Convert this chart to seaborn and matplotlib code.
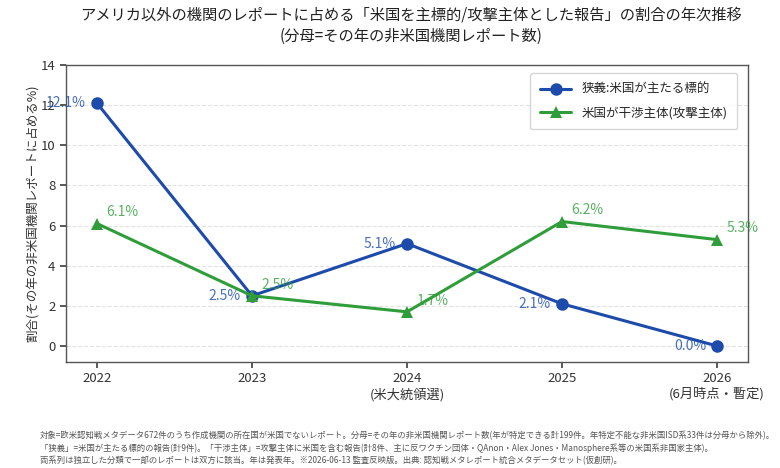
import matplotlib
matplotlib.use("Agg")
import matplotlib.pyplot as plt
import seaborn as sns
import pandas as pd

years = ["2022", "2023", "2024", "2025", "2026"]
xtick_labels = ["2022", "2023", "2024\n(米大統領選)", "2025", "2026\n(6月時点・暫定)"]
narrow = [12.1, 2.5, 5.1, 2.1, 0.0]
interfere = [6.1, 2.5, 1.7, 6.2, 5.3]
series_names = ["狭義:米国が主たる標的", "米国が干渉主体(攻撃主体)"]
title = "アメリカ以外の機関のレポートに占める「米国を主標的/攻撃主体とした報告」の割合の年次推移\n(分母=その年の非米国機関レポート数)"
ylabel = "割合(その年の非米国機関レポートに占める%)"
footnote = ("対象=欧米認知戦メタデータ672件のうち作成機関の所在国が米国でないレポート。分母=その年の非米国機関レポート数(年が特定できる計199件。年特定不能な非米国ISD系33件は分母から除外)。\n"
            "「狭義」=米国が主たる標的の報告(計9件)。「干渉主体」=攻撃主体に米国を含む報告(計8件、主に反ワクチン団体・QAnon・Alex Jones・Manosphere系等の米国系非国家主体)。\n"
            "両系列は独立した分類で一部のレポートは双方に該当。年は発表年。※2026-06-13 監査反映版。出典: 認知戦メタレポート統合メタデータセット(仮創研)。")

sns.set_theme(style="white")
plt.rcParams['font.family'] = ['Noto Sans CJK JP', 'DejaVu Sans']

blue = "#1c4bab"
green = "#2f9e3a"

df = pd.DataFrame({
    "year": list(range(len(years))) * 2,
    "value": narrow + interfere,
    "series": [series_names[0]] * len(years) + [series_names[1]] * len(years),
})

fig = plt.figure(figsize=(7.8, 4.68), dpi=100)
ax = fig.add_axes([0.0846, 0.2265, 0.8744, 0.6345])

sns.lineplot(data=df, x="year", y="value", hue="series", style="series",
             markers={series_names[0]: "o", series_names[1]: "^"}, dashes=False,
             palette={series_names[0]: blue, series_names[1]: green},
             linewidth=2.2, markersize=9, markeredgewidth=0, ax=ax)

for i, v in enumerate(narrow):
    ax.annotate(f"{v:.1f}%", (i, v), xytext=(-8, 0), textcoords="offset points",
                ha="right", va="center", fontsize=10, color=blue, alpha=0.8)
for i, v in enumerate(interfere):
    ax.annotate(f"{v:.1f}%", (i, v), xytext=(7, 3), textcoords="offset points",
                ha="left", va="bottom", fontsize=10, color=green, alpha=0.8)

ax.set_xlim(-0.2, len(years) - 1 + 0.2)
ax.set_ylim(-0.8, 14)
ax.set_yticks(range(0, 15, 2))
ax.set_xticks(range(len(years)))
ax.set_xticklabels(xtick_labels, fontsize=9.5, color="#333333")
ax.tick_params(axis="y", labelsize=9.5, labelcolor="#333333")
ax.tick_params(axis="both", which="both", length=4, color="#444444", bottom=True, left=True)
ax.set_xlabel("")
ax.set_ylabel(ylabel, fontsize=9, color="#333333", labelpad=1)
ax.yaxis.grid(True, linestyle="--", color="#e2e2e2", linewidth=0.8)
ax.set_axisbelow(True)
for s in ax.spines.values():
    s.set_visible(True)
    s.set_color("#555555")
    s.set_linewidth(1.0)

leg = ax.legend(loc="upper right", fontsize=9, frameon=True, borderpad=0.8,
                labelspacing=0.8, handlelength=2.5, borderaxespad=0.3,
                bbox_to_anchor=(0.99, 0.985))
leg.get_frame().set_edgecolor("#cccccc")

fig.text(0.527, 0.905, title, ha="center", va="bottom", fontsize=11, color="#222222",
         linespacing=1.3)
fig.text(0.051, 0.006, footnote, ha="left", va="bottom", fontsize=6.0, color="#555555",
         linespacing=1.45)

fig.savefig("out.png", dpi=100)
